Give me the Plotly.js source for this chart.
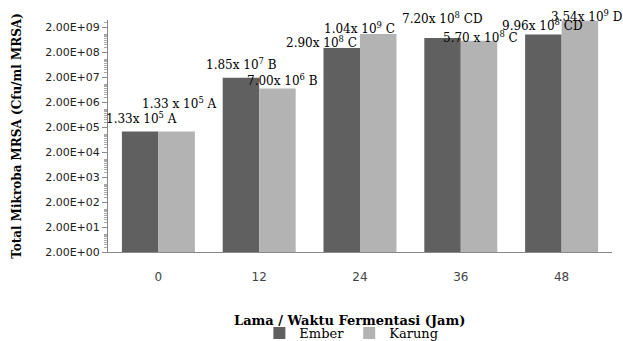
<!DOCTYPE html>
<html><head><meta charset="utf-8">
<script src="https://cdn.plot.ly/plotly-3.0.1.min.js"></script>
<style>html,body{margin:0;padding:0;background:#fff}#c{width:623px;height:341px}</style>
</head><body><div id="c"></div>
<script>
const categories = ['0', '12', '24', '36', '48'];
const emberValues = [1.33e5, 1.85e7, 2.90e8, 7.20e8, 9.96e8];
const karungValues = [1.33e5, 7.00e6, 1.04e9, 5.70e8, 3.54e9];
const emberLabels = ['1.33x 10<sup>5</sup> A', '1.85x 10<sup>7</sup> B', '2.90x 10<sup>8</sup> C', '7.20x 10<sup>8</sup> CD', '9.96x 10<sup>8</sup> CD'];
const karungLabels = ['1.33 x 10<sup>5</sup> A', '7.00x 10<sup>6</sup> B', '1.04x 10<sup>9</sup> C', '5.70 x 10<sup>8</sup> C', '3.54x 10<sup>9</sup> D'];
const yTickVals = [2, 2e1, 2e2, 2e3, 2e4, 2e5, 2e6, 2e7, 2e8, 2e9];
const yTickText = ['2.00E+00','2.00E+01','2.00E+02','2.00E+03','2.00E+04','2.00E+05','2.00E+06','2.00E+07','2.00E+08','2.00E+09'];
const xTitle = 'Lama / Waktu Fermentasi (Jam)';
const yTitle = 'Total Mikroba MRSA (Cfu/ml MRSA)';

// label placement offsets (pixels) relative to bar top centre
const emberShift = [[1,13],[0,14],[-21,6],[0,20],[-1,10]];
const karungShift = [[3,28],[5,8],[-19,6],[2,4],[7,5]];
const halfBar = 18;
const labelFont = {family: 'DejaVu Serif', size: 12, color: '#000'};

const annotations = [];
categories.forEach((c, i) => {
  annotations.push({x: i, y: Math.log10(emberValues[i]), xref: 'x', yref: 'y', text: emberLabels[i],
    showarrow: false, xanchor: 'center', yanchor: 'middle', xshift: -halfBar + emberShift[i][0], yshift: emberShift[i][1],
    font: labelFont});
  annotations.push({x: i, y: Math.log10(karungValues[i]), xref: 'x', yref: 'y', text: karungLabels[i],
    showarrow: false, xanchor: 'center', yanchor: 'middle', xshift: halfBar + karungShift[i][0], yshift: karungShift[i][1],
    font: labelFont});
});
// x-axis title
annotations.push({x: 0.48, y: 0, xref: 'paper', yref: 'paper', yshift: -68, text: '<b>' + xTitle + '</b>',
  showarrow: false, xanchor: 'center', yanchor: 'middle', font: {family: 'DejaVu Serif', size: 13, color: '#000'}});

const data = [
  {type: 'bar', name: 'Ember', x: categories, y: emberValues, marker: {color: '#606060'}},
  {type: 'bar', name: 'Karung', x: categories, y: karungValues, marker: {color: '#b3b3b3'}}
];

const layout = {
  width: 623, height: 341,
  margin: {l: 108, r: 11, t: 20, b: 89},
  paper_bgcolor: '#fff', plot_bgcolor: '#fff',
  barmode: 'group', bargap: 0.276, bargroupgap: 0,
  showlegend: true,
  legend: {orientation: 'h', x: 0.564, xanchor: 'center', xref: 'container', y: 8/341, yanchor: 'middle', yref: 'container',
    font: {family: 'DejaVu Serif', size: 13, color: '#000'}, itemwidth: 30, tracegroupgap: 0},
  xaxis: {
    type: 'category', range: [-0.5, 4.5], autorange: false, automargin: false,
    showline: true, linecolor: '#888', linewidth: 1, ticks: '', showgrid: false,
    tickfont: {family: 'DejaVu Sans', size: 12, color: '#444'}, ticklabelstandoff: 14
  },
  yaxis: {
    type: 'log', range: [Math.log10(2), Math.log10(2) + 9.28], autorange: false, automargin: false,
    showline: true, linecolor: '#888', linewidth: 1, showgrid: false, zeroline: false,
    tickvals: yTickVals, ticktext: yTickText, ticks: 'outside', ticklen: 5, tickcolor: '#888',
    minor: {ticks: 'outside', ticklen: 3, tickcolor: '#aaa', dtick: 'D1', showgrid: false},
    tickfont: {family: 'DejaVu Sans', size: 11, color: '#222'},
    title: {text: '<b>' + yTitle + '</b>', font: {family: 'DejaVu Serif', size: 12, color: '#000'}, standoff: 20}
  },
  annotations: annotations
};

Plotly.newPlot('c', data, layout, {displayModeBar: false, staticPlot: true});
</script></body></html>
